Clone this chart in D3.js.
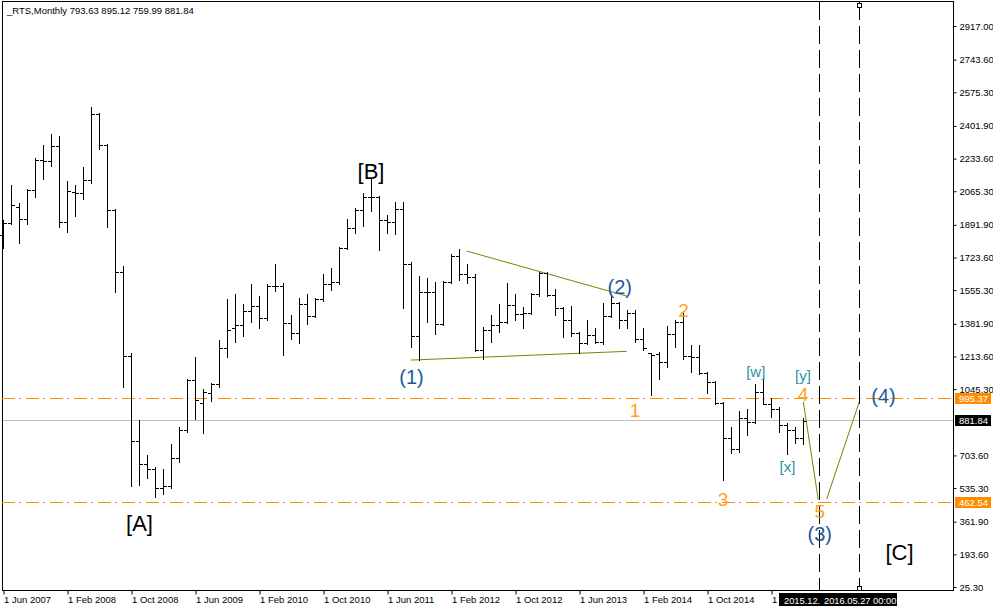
<!DOCTYPE html>
<html><head><meta charset="utf-8">
<script src="https://cdn.jsdelivr.net/npm/d3@7"></script>
<style>
html,body{margin:0;padding:0;background:#fff;}
svg{display:block;font-family:"Liberation Sans",Arial,sans-serif;}
</style></head><body>
<svg id="c" width="993" height="608"></svg>
<script>
// ---- data (monthly bars, Jun 2007 .. Oct 2015) ----
const startMonth = "2007-06";
const openV = [1840,1901,1984,1922,2072,2226,2221,2299,1907,2060,
  2056,2123,2463,2304,1969,1649,1216,778,659,634,
  536,546,690,835,1092,975,1025,1070,1257,1360,
  1376,1448,1474,1412,1577,1577,1386,1335,1484,1422,
  1510,1587,1597,1773,1876,1969,2036,2036,1917,1907,
  1974,1690,1319,1546,1546,1381,1597,1732,1640,1623,
  1247,1350,1376,1391,1479,1433,1438,1536,1644,1531,
  1464,1402,1335,1283,1324,1288,1422,1489,1402,1438,
  1304,1230,1226,1185,1329,1392,1216,1211,1129,1082,
  974,793,737,896,876,1030,969,943,860,835,
  793.63];
const highV = [1917,2098,2005,2077,2237,2304,2360,2350,2118,2098,
  2190,2500,2470,2310,1975,1680,1232,886,706,644,
  634,763,850,1100,1211,1046,1075,1299,1510,1536,
  1484,1588,1525,1587,1689,1590,1427,1515,1536,1515,
  1639,1669,1778,1922,1979,2056,2134,2040,1943,2010,
  2010,1700,1628,1618,1597,1605,1742,1768,1690,1639,
  1366,1428,1484,1593,1536,1469,1541,1650,1650,1562,
  1469,1474,1340,1402,1360,1490,1531,1495,1453,1453,
  1360,1232,1237,1371,1402,1443,1273,1273,1134,1087,
  979,850,933,943,1072,1103,1000,953,870,850,
  895.12];
const lowV = [1773,1897,1799,1897,2036,2129,2196,1881,1855,1938,
  2025,2110,2283,1881,1546,1056,546,551,587,489,
  505,536,670,825,891,819,985,1056,1211,1288,
  1319,1391,1360,1402,1551,1221,1304,1283,1381,1417,
  1500,1556,1585,1765,1850,1886,1963,1763,1850,1845,
  1464,1263,1196,1391,1329,1375,1590,1608,1592,1240,
  1201,1288,1340,1386,1402,1360,1430,1525,1526,1428,
  1314,1319,1232,1278,1283,1280,1417,1360,1360,1288,
  1247,1015,1098,1160,1262,1201,1134,1123,1025,969,
  577,716,721,809,870,969,902,824,711,768,
  759.99];
const closeV = [1901,1995,1922,2072,2226,2221,2299,1907,2067,2056,
  2123,2463,2304,1969,1649,1216,778,659,634,536,
  546,690,835,1092,989,1030,1070,1257,1350,1376,
  1448,1474,1412,1577,1575,1386,1335,1484,1422,1510,
  1587,1597,1773,1876,1969,2036,2035,1917,1907,1974,
  1690,1319,1546,1546,1381,1597,1732,1640,1623,1247,
  1350,1376,1391,1479,1433,1438,1536,1644,1531,1464,
  1402,1335,1283,1324,1288,1422,1489,1402,1438,1304,
  1257,1220,1185,1329,1392,1216,1211,1129,1082,974,
  793,737,896,876,1030,969,943,860,835,793,
  881.84];

const yTickValues = [2917.00,2743.60,2575.30,2401.90,2233.60,2065.30,1891.90,1723.60,1555.30,1381.90,1213.60,1045.30,703.60,535.30,361.90,193.60,25.30];
const xTickIdx = [0,8,16,24,32,40,48,56,64,72,80,88,96];
const xTickLabels = ["1 Jun 2007","1 Feb 2008","1 Oct 2008","1 Jun 2009","1 Feb 2010","1 Oct 2010","1 Jun 2011","1 Feb 2012","1 Oct 2012","1 Jun 2013","1 Feb 2014","1 Oct 2014","1 Jun 2015"];

const lastPrice = 881.84;
const levels = [995.37, 462.54];
const triUpper = [[57.96,1757],[77.96,1525]];
const triLower = [[51,1195],[77.96,1240]];
const zig1 = [[100.04,980],[101.9,477]];
const zig2 = [[102.96,479],[107.04,980]];
const vLineIdx = [102,107];
const dateBoxLabels = ["2015.12.","2016.05.27 00:00"];
const bracketLabels = [["[A]",17.06,353],["[B]",46,2165],["[C]",112.06,203]];
const blueLabels = [["(1)",51.06,1108],["(2)",77.1,1572],["(3)",102.1,296],["(4)",110.06,1012]];
const orangeLabels = [["1",79,935],["2",85.06,1451],["3",90,476],["4",100,1015],["5",102.1,414]];
const tealLabels = [["[w]",94.1,1134],["[y]",100,1118],["[x]",98.06,644]];

// ---- drawing ----
const svg = d3.select("#c");
const x = d3.scaleLinear().domain([0,100]).range([3,803]);
const y = d3.scaleLinear().domain([25.3,2917]).range([587,26]);
const L=2, R=953, T=1, B=590;
const FONT = "Liberation Sans, Arial, sans-serif";

svg.append("defs").append("clipPath").attr("id","lastTickClip")
  .append("rect").attr("x",0).attr("y",0).attr("width",778).attr("height",608);

// frame
svg.append("rect").attr("x",L+0.5).attr("y",T+0.5).attr("width",R-L).attr("height",B-T)
  .attr("fill","none").attr("stroke","#000");

// current price line
const py = v => Math.floor(y(v))+0.5;
svg.append("line").attr("x1",L+1).attr("x2",R).attr("y1",py(lastPrice)).attr("y2",py(lastPrice))
  .attr("stroke","#c0c0c0");

// orange levels
levels.forEach(v=>{
  svg.append("line").attr("x1",L).attr("x2",R).attr("y1",py(v)).attr("y2",py(v))
    .attr("stroke","#ff8c00").attr("stroke-dasharray","13,4,2,5");
});

// triangle lines
const lineGen = d3.line().x(d=>x(d[0])).y(d=>y(d[1]));
[triUpper, triLower].forEach(seg=>{
  svg.append("path").attr("d",lineGen(seg)).attr("fill","none").attr("stroke","#808000").attr("stroke-width",1);
});

// bars
const bars = svg.append("g");
openV.forEach((o,i)=>{
  const px = Math.round(x(i));
  const yh = Math.round(y(highV[i])), yl = Math.round(y(lowV[i]));
  const yo = Math.round(y(o)), yc = Math.round(y(closeV[i]));
  bars.append("rect").attr("x",px).attr("y",yh).attr("width",1).attr("height",Math.max(1,yl-yh+1)).attr("fill","#000");
  bars.append("rect").attr("x",px-3).attr("y",yo).attr("width",3).attr("height",1).attr("fill","#000");
  bars.append("rect").attr("x",px+1).attr("y",yc).attr("width",3).attr("height",1).attr("fill","#000");
});

// zigzag
[zig1, zig2].forEach(seg=>{
  svg.append("path").attr("d",lineGen(seg)).attr("fill","none").attr("stroke","#808000").attr("stroke-width",1);
});

// vertical dashed lines
vLineIdx.forEach(i=>{
  const vx = Math.round(x(i))+0.5;
  svg.append("line").attr("x1",vx).attr("x2",vx).attr("y1",T+1).attr("y2",B)
    .attr("stroke","#000").attr("stroke-dasharray","18,6");
});
{
  const vx = Math.round(x(vLineIdx[1]));
  [3,586].forEach(sy=>{
    svg.append("rect").attr("x",vx-1.5).attr("y",sy+0.5).attr("width",4).attr("height",4)
      .attr("fill","#fff").attr("stroke","#000");
  });
}

// wave labels
function labels(arr, color, size){
  arr.forEach(([t,i,v])=>{
    svg.append("text").attr("x",x(i)).attr("y",y(v)).attr("text-anchor","middle")
      .attr("dominant-baseline","central").attr("fill",color)
      .style("font-family",FONT).style("font-size",size+"px").text(t);
  });
}
labels(bracketLabels,"#000",22);
labels(blueLabels,"#1f5a9e",20);
labels(orangeLabels,"#ffa41c",19);
labels(tealLabels,"#2a93a6",15);

// right axis
const yAxis = d3.axisRight(y).tickValues(yTickValues).tickFormat(d3.format(".2f")).tickSize(3).tickPadding(3);
const ga = svg.append("g").attr("transform",`translate(${R+0.5},0)`).call(yAxis);
ga.select(".domain").remove();
ga.selectAll("text").style("font-family",FONT).style("font-size","9.5px").attr("fill","#000");
ga.selectAll("line").attr("stroke","#000");

// bottom axis
const xAxis = d3.axisBottom(x).tickValues(xTickIdx).tickFormat((d,k)=>xTickLabels[k]).tickSize(4).tickPadding(2);
const gx = svg.append("g").attr("transform",`translate(0.5,${B+0.5})`).call(xAxis);
gx.select(".domain").remove();
gx.selectAll("text").style("font-family",FONT).style("font-size","9.5px").attr("text-anchor","start").attr("dx","0").attr("fill","#000");
gx.selectAll("line").attr("stroke","#000");
gx.selectAll(".tick").filter((d,k)=>k===xTickIdx.length-1).select("text")
  .attr("clip-path","url(#lastTickClip)");

// price boxes on axis
function priceBox(v, bg){
  const cy = py(v);
  svg.append("rect").attr("x",R+2).attr("y",cy-5.5).attr("width",36).attr("height",11).attr("fill",bg);
  svg.append("text").attr("x",R+6).attr("y",cy).attr("dominant-baseline","central").attr("fill","#fff")
    .style("font-family",FONT).style("font-size","9.5px").text(d3.format(".2f")(v));
}
priceBox(levels[0],"#ff8c00");
priceBox(lastPrice,"#000");
priceBox(levels[1],"#ff8c00");

// date box
svg.append("rect").attr("x",779).attr("y",593).attr("width",118).attr("height",13).attr("fill","#000");
svg.append("text").attr("x",784).attr("y",603.5).attr("fill","#fff").style("font-family",FONT).style("font-size","9.3px").text(dateBoxLabels[0]);
svg.append("text").attr("x",824).attr("y",603.5).attr("fill","#fff").style("font-family",FONT).style("font-size","9.3px").text(dateBoxLabels[1]);

// header
svg.append("text").attr("x",7).attr("y",14).attr("fill","#000").style("font-family",FONT).style("font-size","9.5px")
  .text("_RTS,Monthly  793.63 895.12 759.99 881.84");
</script>
</body></html>
